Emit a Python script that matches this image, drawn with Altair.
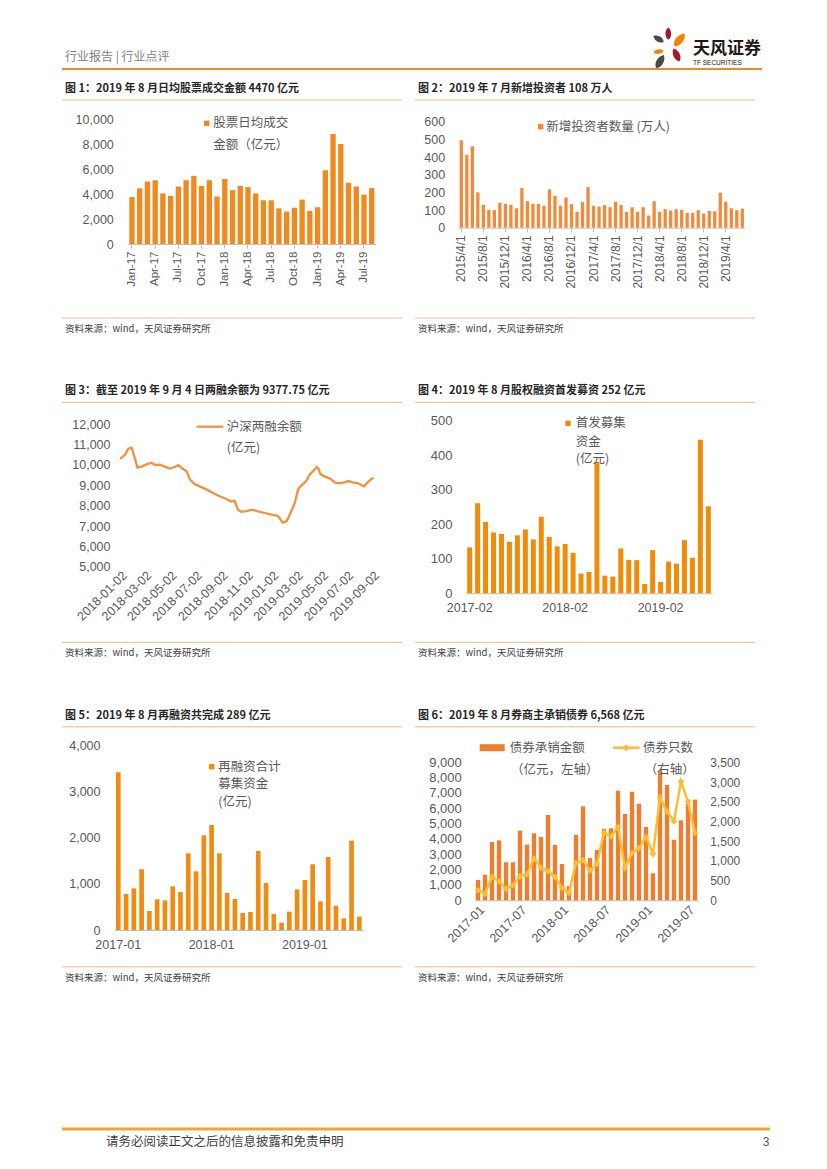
import altair as alt
import pandas as pd

# ---------------------------------------------------------------- data
MONTHS = ["Jan", "Feb", "Mar", "Apr", "May", "Jun", "Jul", "Aug", "Sep", "Oct", "Nov", "Dec"]

# Fig 1: daily average stock turnover (100m CNY), Jan-17 .. Aug-19
c1_cats = [f"{m}-{y}" for y in ("17", "18", "19") for m in MONTHS][:32]
c1_vals = [3750, 4450, 5000, 5100, 4050, 3850, 4600, 5100, 5450, 4650, 5100, 3800,
           5200, 4300, 4650, 4550, 4050, 3500, 3500, 2850, 2600, 2900, 3550, 2650,
           2950, 5900, 8800, 8000, 4900, 4600, 3950, 4470]
c1_ticks = c1_cats[::3]
c1_yticks = [0, 2000, 4000, 6000, 8000, 10000]

# Fig 2: new investors (10k), 2015/4 .. 2019/7
c2_cats = [f"{y}/{m}/1" for y in range(2015, 2020) for m in range(1, 13)][3:55]
c2_vals = [495, 413, 461, 200, 130, 101, 99, 141, 135, 130, 110, 225, 150, 135, 135,
           124, 217, 181, 124, 171, 133, 90, 145, 230, 124, 120, 128, 116, 147, 128,
           90, 116, 90, 116, 69, 150, 90, 105, 97, 105, 101, 84, 84, 99, 80, 95, 93,
           198, 147, 110, 99, 108]
c2_ticks = c2_cats[::4]
c2_yticks = [0, 100, 200, 300, 400, 500, 600]

# Fig 3: margin balance (100m CNY)
c3_dates = ["2018-01-02", "2018-01-14", "2018-01-22", "2018-01-30", "2018-02-05",
            "2018-02-13", "2018-02-23", "2018-03-07", "2018-03-19", "2018-03-27",
            "2018-04-08", "2018-04-20", "2018-05-02", "2018-05-14", "2018-05-22",
            "2018-06-03", "2018-06-11", "2018-06-19", "2018-07-01", "2018-07-13",
            "2018-07-29", "2018-08-14", "2018-08-30", "2018-09-15", "2018-09-27",
            "2018-10-05", "2018-10-13", "2018-10-21", "2018-11-02", "2018-11-16",
            "2018-11-30", "2018-12-16", "2019-01-02", "2019-01-18", "2019-01-29",
            "2019-02-07", "2019-02-15", "2019-02-27", "2019-03-07", "2019-03-15",
            "2019-03-27", "2019-04-04", "2019-04-12", "2019-04-21", "2019-04-25",
            "2019-04-30", "2019-05-11", "2019-05-23", "2019-06-04", "2019-06-16",
            "2019-06-28", "2019-07-06", "2019-07-18", "2019-07-30", "2019-08-07",
            "2019-08-13", "2019-08-23", "2019-09-04"]
c3_vals = [10300, 10500, 10800, 10850, 10450, 9870, 9920, 10030, 10110, 10000,
           10020, 9920, 9820, 9900, 9990, 9800, 9700, 9300, 9050, 8950,
           8800, 8620, 8460, 8330, 8200, 8250, 7800, 7700, 7730, 7800,
           7720, 7640, 7560, 7480, 7170, 7230, 7560, 8140, 8800, 9000,
           9220, 9540, 9700, 9900, 9820, 9540, 9430, 9330, 9130, 9100,
           9160, 9210, 9130, 9100, 9000, 8950, 9180, 9378]
c3_yticks = [5000, 6000, 7000, 8000, 9000, 10000, 11000, 12000]
c3_ticks = [(2018, 1), (2018, 3), (2018, 5), (2018, 7), (2018, 9), (2018, 11),
            (2019, 1), (2019, 3), (2019, 5), (2019, 7), (2019, 9)]

# Fig 4: IPO proceeds (100m CNY), 2017-02 .. 2019-08
ALL_YM = [f"{y}-{m:02d}" for y in (2017, 2018, 2019) for m in range(1, 13)]
c4_cats = ALL_YM[1:32]
c4_vals = [133, 261, 207, 176, 172, 149, 168, 185, 156, 222, 163, 136, 143, 117, 57,
           62, 380, 51, 48, 130, 97, 96, 27, 125, 33, 92, 86, 154, 103, 445, 252]
c4_ticks = ["2017-02", "2018-02", "2019-02"]
c4_yticks = [0, 100, 200, 300, 400, 500]

# Fig 5: refinancing proceeds (100m CNY), 2017-01 .. 2019-08
c5_cats = ALL_YM[0:32]
c5_vals = [3410, 778, 900, 1312, 411, 663, 641, 944, 822, 1658, 1268, 2047, 2270, 1658,
           800, 670, 368, 389, 1708, 1016, 346, 159, 396, 879, 1081, 1420, 620, 1578,
           526, 252, 1932, 289]
c5_ticks = ["2017-01", "2018-01", "2019-01"]
c5_yticks = [0, 1000, 2000, 3000, 4000]

# Fig 6: bond underwriting amount (left) and count (right), 2017-01 .. 2019-08
c6_cats = ALL_YM[0:32]
c6_amount = [1330, 1670, 3800, 3910, 2480, 2480, 4540, 3630, 4370, 4130, 5570, 3610,
             2370, 930, 4260, 6130, 2760, 3280, 4650, 4700, 7150, 5630, 7080, 6300,
             4780, 1760, 8400, 7520, 3950, 5220, 6300, 6568]
c6_count = [255, 170, 595, 485, 290, 380, 610, 655, 1060, 825, 740, 595, 315, 185,
            950, 1020, 755, 925, 1715, 1620, 1860, 825, 1200, 1325, 1605, 1180, 2610,
            2250, 2005, 3015, 2500, 1715]
c6_ticks = ["2017-01", "2017-07", "2018-01", "2018-07", "2019-01", "2019-07"]
c6_yticks = [0, 1000, 2000, 3000, 4000, 5000, 6000, 7000, 8000, 9000]
c6_y2ticks = [0, 500, 1000, 1500, 2000, 2500, 3000, 3500]

TITLES = ["图 1：2019 年 8 月日均股票成交金额 4470 亿元",
          "图 2：2019 年 7 月新增投资者 108 万人",
          "图 3：截至 2019 年 9 月 4 日两融余额为 9377.75 亿元",
          "图 4：2019 年 8 月股权融资首发募资 252 亿元",
          "图 5：2019 年 8 月再融资共完成 289 亿元",
          "图 6：2019 年 8 月券商主承销债券 6,568 亿元"]
SOURCE = "资料来源：wind，天风证券研究所"

# ---------------------------------------------------------------- style
CJK = "Noto Sans CJK SC"
NUM = "Liberation Sans"
TITLE_C = "#262626"
LAB_C = "#595959"
SRC_C = "#404040"
RULE_C = "#F4B98A"
AX_C = "#BFBFBF"
C1 = "#EE8A1F"
C2 = "#EF8B3B"
C3 = "#F0923E"
C4 = "#F08C0A"
C5 = "#F08C12"
C6B = "#EE7E2E"
C6L = "#F9BE32"
W = 340
H1, H2, H3 = 218, 240, 240
ONE = pd.DataFrame({"k": [0]})
PETAL = "M0,-1 C0.62,-0.5 0.62,0.6 0,1 C-0.62,0.6 -0.62,-0.5 0,-1 Z"


def T(t, x, y, size=12.5, color=LAB_C, font=CJK, weight="normal", align="left"):
    return alt.Chart(ONE).mark_text(text=t, align=align, baseline="middle", font=font,
                                    fontSize=size, fontWeight=weight, color=color
                                    ).encode(x=alt.value(x), y=alt.value(y))


def HL(x1, x2, y, color, w):
    return alt.Chart(ONE).mark_rule(color=color, strokeWidth=w).encode(
        x=alt.value(x1), x2=alt.value(x2), y=alt.value(y), y2=alt.value(y))


def SQ(x, y, color, size=30):
    return alt.Chart(ONE).mark_square(color=color, size=size, opacity=1).encode(
        x=alt.value(x), y=alt.value(y))


def PT(x, y, color, size, angle):
    return alt.Chart(ONE).mark_point(shape=PETAL, filled=True, color=color, opacity=1,
                                     size=size, angle=angle).encode(x=alt.value(x), y=alt.value(y))


def frame(i, h):
    return [T(TITLES[i], 3, -11, 11, TITLE_C, weight="bold"),
            HL(0, W, 0, RULE_C, 1), HL(0, W, h, RULE_C, 1),
            T(SOURCE, 3, h + 11, 9.5, SRC_C)]


def yax(vals, offset, size=12.5, orient="left"):
    return alt.Axis(values=vals, format=",.0f", orient=orient, offset=offset, ticks=False,
                    tickSize=0, domain=False, grid=False, labelPadding=0, labelFont=NUM,
                    labelFontSize=size, labelColor=LAB_C, labelOverlap=False,
                    labelFlush=False, title=None)


def xax(vals, offset, angle, size=12.5, pad=3, domain=True, ticks=False, fmt=None):
    kw = dict(values=vals, offset=offset, labelAngle=angle, labelFont=NUM,
              labelFontSize=size, labelColor=LAB_C, labelPadding=pad, labelOverlap=False,
              labelFlush=False, grid=False, title=None, domain=domain, domainColor=AX_C,
              ticks=ticks, tickSize=4 if ticks else 0, tickColor=AX_C)
    if fmt:
        kw["format"] = fmt
    return alt.Axis(**kw)


def band(rng, p):
    return alt.Scale(range=rng, paddingInner=p, paddingOuter=p / 2)


def lin(dom, rng):
    return alt.Scale(domain=dom, range=rng, nice=False)


# ---------------------------------------------------------------- panel 1 (+ page header)
df1 = pd.DataFrame({"m": c1_cats, "v": c1_vals})
bars1 = alt.Chart(df1).mark_bar(color=C1).encode(
    x=alt.X("m:N", sort=None, scale=band([66.1, 313.6], 0.31),
            axis=xax(c1_ticks, -74, 270, size=11.5, ticks=True)),
    y=alt.Y("v:Q", scale=lin([0, 10000], [144, 19]), axis=yax(c1_yticks, -51.3)))
header = [
    alt.Chart(ONE).mark_rule(color="white", strokeWidth=1).encode(
        x=alt.value(-53.5), x2=alt.value(-53.5), y=alt.value(-91.5), y2=alt.value(-86)),
    T("行业报告 | 行业点评", 3, -43, 12, "#7F7F7F"),
    HL(0, 700, -31, "#EF8A24", 2),
    PT(606.3, -66.5, "#A3192E", 150, 0),
    PT(617.5, -60, "#F08300", 260, 40),
    PT(596.5, -61, "#4A4A4A", 140, 300),
    PT(596.5, -48.5, "#F08300", 100, 80),
    PT(614.5, -45, "#A3192E", 200, 335),
    PT(598, -38.5, "#4A4A4A", 230, 30),
    T("天风证券", 631, -51.5, 17, "#231815", weight="bold"),
    T("TF SECURITIES", 631, -37.3, 6.5, "#231815", font=NUM),
]
leg1 = [SQ(144.7, 23.3, C1), T("股票日均成交", 151.3, 23.3), T("金额（亿元）", 151.3, 45)]
p1 = alt.layer(*header, *frame(0, H1), bars1, *leg1).properties(width=W, height=H1)

# ---------------------------------------------------------------- panel 2
df2 = pd.DataFrame({"m": c2_cats, "v": c2_vals})
bars2 = alt.Chart(df2).mark_bar(color=C2).encode(
    x=alt.X("m:N", sort=None, scale=band([43.55, 330.05], 0.4),
            axis=xax(c2_ticks, -90.3, 270, size=12, ticks=True)),
    y=alt.Y("v:Q", scale=lin([0, 600], [127.7, 21.7]), axis=yax(c2_yticks, -29.7)))
leg2 = [SQ(125.7, 26.7, C2), T("新增投资者数量 (万人)", 131.3, 26.7)]
p2 = alt.layer(*frame(1, H1), bars2, *leg2).properties(width=W, height=H1)

# ---------------------------------------------------------------- panel 3
df3 = pd.DataFrame({"d": c3_dates, "v": c3_vals})
line3 = alt.Chart(df3).mark_line(color=C3, strokeWidth=2.3).encode(
    x=alt.X("d:T", scale=alt.Scale(type="utc",
                                   domain=[alt.DateTime(year=2018, month=1, date=2, utc=True),
                                           alt.DateTime(year=2019, month=9, date=4, utc=True)],
                                   range=[58, 311.3]),
            axis=xax([alt.DateTime(year=y, month=m, date=2, utc=True) for y, m in c3_ticks],
                     -75.7, 315, pad=2, domain=False, fmt="%Y-%m-%d")),
    y=alt.Y("v:Q", scale=lin([5000, 12000], [164.3, 21.9]), axis=yax(c3_yticks, -48)))
leg3 = [HL(134.7, 161.3, 24.3, C3, 2.3), T("沪深两融余额", 164.7, 24.3), T("(亿元)", 164.7, 45.9)]
p3 = alt.layer(*frame(2, H2), line3, *leg3).properties(width=W, height=H2)

# ---------------------------------------------------------------- panel 4
df4 = pd.DataFrame({"m": c4_cats, "v": c4_vals})
bars4 = alt.Chart(df4).mark_bar(color=C4).encode(
    x=alt.X("m:N", sort=None, scale=band([50.7, 297.3], 0.37),
            axis=xax(c4_ticks, -49.1, 0, pad=8, domain=True)),
    y=alt.Y("v:Q", scale=lin([0, 500], [190.9, 18.3]), axis=yax(c4_yticks, -37, size=13)))
leg4 = [SQ(153, 20.9, C4), T("首发募集", 160.7, 20.9), T("资金", 160.7, 39.3), T("(亿元)", 160.7, 56.9)]
p4 = alt.layer(*frame(3, H2), bars4, *leg4).properties(width=W, height=H2)

# ---------------------------------------------------------------- panel 5 (+ page footer)
df5 = pd.DataFrame({"m": c5_cats, "v": c5_vals})
bars5 = alt.Chart(df5).mark_bar(color=C5).encode(
    x=alt.X("m:N", sort=None, scale=band([52.4, 301.2], 0.4),
            axis=xax(c5_ticks, -36.8, 0, pad=8, domain=True)),
    y=alt.Y("v:Q", scale=lin([0, 4000], [203.2, 18.2]), axis=yax(c5_yticks, -38)))
leg5 = [SQ(149.7, 39.9, C5), T("再融资合计", 156.3, 39.9), T("募集资金", 156.3, 57.5),
        T("(亿元)", 156.3, 74.9)]
footer = [HL(0, 708, 402.2, "#F2A33A", 3),
          T("请务必阅读正文之后的信息披露和免责申明", 44, 414.7, 12.5, "#404040"),
          T("3", 704, 414.7, 12, "#595959", font=NUM, align="center")]
p5 = alt.layer(*frame(4, H3), bars5, *leg5, *footer).properties(width=W, height=H3)

# ---------------------------------------------------------------- panel 6
df6 = pd.DataFrame({"m": c6_cats, "a": c6_amount, "n": c6_count})
x6 = alt.X("m:N", sort=None, scale=band([59.5, 283.5], 0.38),
           axis=xax(c6_ticks, -66.5, 315, pad=3, domain=True))
bars6 = alt.Chart(df6).mark_bar(color=C6B).encode(
    x=x6, y=alt.Y("a:Q", scale=lin([0, 9000], [173.5, 35.5]), axis=yax(c6_yticks, -46.3, size=13)))
line6 = alt.Chart(df6).mark_line(
    color=C6L, strokeWidth=2.5,
    point=alt.OverlayMarkDef(shape="diamond", size=45, filled=True, color=C6L)).encode(
    x=alt.X("m:N", sort=None, scale=band([59.5, 283.5], 0.38)),
    y=alt.Y("n:Q", scale=lin([0, 3500], [173.5, 35.5]),
            axis=yax(c6_y2ticks, -45.3, size=12, orient="right")))
leg6 = [HL(64.7, 89.7, 20.9, C6B, 7), T("债券承销金额", 94.7, 20.9), T("（亿元，左轴）", 96, 43.2),
        HL(198, 224.7, 20.9, C6L, 2.5),
        alt.Chart(ONE).mark_point(shape="diamond", filled=True, color=C6L, opacity=1, size=50
                                  ).encode(x=alt.value(211.3), y=alt.value(20.9)),
        T("债券只数", 228, 20.9), T("（右轴）", 229.7, 43.2)]
p6 = alt.layer(*frame(5, H3), bars6, line6, *leg6).resolve_scale(y="independent").properties(
    width=W, height=H3)

# ---------------------------------------------------------------- page
chart = alt.concat(p1, p2, p3, p4, p5, p6, columns=2,
                   spacing={"row": 84.4, "column": 13}, bounds="flush").properties(
    padding=0).configure_view(strokeWidth=0)

chart.save("out.html", embed_options={"renderer": "svg", "actions": False})
